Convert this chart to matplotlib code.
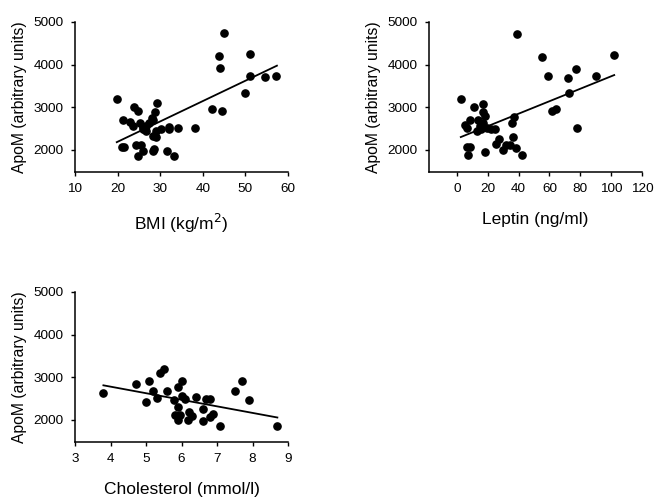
import matplotlib
matplotlib.use("Agg")
import matplotlib.pyplot as plt

plt.rcParams["font.family"] = ["Liberation Sans", "DejaVu Sans"]

# BMI panel
bmi = [19.9, 45.0, 43.9, 44.0, 51.0, 51.0, 54.6, 57.2, 49.9, 42.2, 44.4,
       38.2, 34.1, 32.1, 32.1, 30.3, 29.2, 28.8, 28.0, 28.4, 23.9, 24.7,
       21.2, 22.9, 23.7, 25.3, 26.0, 26.3, 26.6, 26.0, 29.0, 28.4, 29.0,
       21.0, 21.5, 24.4, 25.6, 25.9, 24.7, 28.2, 28.6, 31.5, 33.3, 27.4,
       26.6]
bmi_apom = [3195, 4750, 4200, 3910, 4240, 3740, 3700, 3730, 3340, 2960, 2905,
            2510, 2520, 2530, 2490, 2480, 3090, 2880, 2740, 2700, 3010, 2910,
            2690, 2660, 2550, 2620, 2530, 2480, 2450, 2500, 2450, 2330, 2300,
            2060, 2060, 2110, 2110, 1970, 1850, 1980, 2020, 1970, 1850, 2620,
            2560]
bmi_fit_x = [19.8, 57.4]
bmi_fit_y = [2180, 3975]

# Leptin panel
leptin = [2.6, 38.7, 54.9, 102.0, 59.2, 71.8, 77.0, 89.9, 72.8, 61.8, 64.6,
          77.8, 37.0, 35.5, 36.5, 38.3, 42.2, 32.2, 30.0, 34.2, 25.7, 27.2,
          18.6, 7.3, 8.4, 6.8, 11.0, 17.1, 16.7, 18.0, 5.2, 6.6, 8.4, 13.8,
          15.0, 16.0, 12.8, 19.3, 22.4, 24.6, 15.6, 16.7]
leptin_apom = [3195, 4730, 4185, 4225, 3730, 3690, 3900, 3725, 3330, 2900, 2950,
               2510, 2765, 2625, 2300, 2040, 1870, 2120, 2000, 2120, 2140, 2250,
               1960, 1870, 2060, 2060, 3010, 3075, 2880, 2800, 2585, 2520, 2690,
               2700, 2560, 2560, 2445, 2510, 2480, 2480, 2480, 2630]
leptin_fit_x = [2.6, 102.0]
leptin_fit_y = [2300, 3755]

# Cholesterol panel
chol = [3.80, 4.71, 5.09, 5.00, 5.21, 5.30, 5.39, 5.51, 5.60, 5.80, 5.89,
        6.00, 5.89, 6.00, 6.10, 6.40, 5.82, 5.96, 5.89, 6.21, 6.19, 6.29,
        6.60, 6.60, 6.68, 6.80, 6.80, 6.90, 7.09, 7.50, 7.70, 7.90, 8.70]
chol_apom = [2620, 2830, 2900, 2425, 2685, 2510, 3110, 3190, 2685, 2470, 2765,
             2905, 2305, 2565, 2490, 2545, 2120, 2120, 2000, 2195, 2000, 2080,
             2250, 1975, 2480, 2480, 2070, 2135, 1860, 2670, 2900, 2470, 1860]
chol_fit_x = [3.8, 8.7]
chol_fit_y = [2810, 2055]

y_ticks = [2000, 3000, 4000, 5000]

fig = plt.figure(figsize=(6.55, 5.0), dpi=100)
ax1 = fig.add_axes([75 / 655, 1 - 172 / 500, 213 / 655, 150 / 500])
ax2 = fig.add_axes([429 / 655, 1 - 172 / 500, 213 / 655, 150 / 500])
ax3 = fig.add_axes([75 / 655, 1 - 442 / 500, 213 / 655, 150 / 500])

panels = [
    (ax1, bmi, bmi_apom, bmi_fit_x, bmi_fit_y, (10, 60),
     [10, 20, 30, 40, 50, 60], "BMI (kg/m$^2$)"),
    (ax2, leptin, leptin_apom, leptin_fit_x, leptin_fit_y, (-18, 120),
     [0, 20, 40, 60, 80, 100, 120], "Leptin (ng/ml)"),
    (ax3, chol, chol_apom, chol_fit_x, chol_fit_y, (3, 9),
     [3, 4, 5, 6, 7, 8, 9], "Cholesterol (mmol/l)"),
]

for ax, x, y, fx, fy, xlim, xt, xlabel in panels:
    ax.plot(x, y, "o", color="black", markersize=5.2, clip_on=False)
    ax.plot(fx, fy, "-", color="black", lw=1.3)
    ax.set_xlim(*xlim)
    ax.set_ylim(1480, 5000)
    ax.set_xticks(xt)
    ax.set_yticks(y_ticks)
    ax.spines["top"].set_visible(False)
    ax.spines["right"].set_visible(False)
    for s in ["left", "bottom"]:
        ax.spines[s].set_linewidth(1.1)
    ax.tick_params(direction="out", length=3, width=1, labelsize=9.7,
                   pad=5, colors="black")
    ax.set_xlabel(xlabel, fontsize=12.5, labelpad=12)
    ax.set_ylabel("ApoM (arbitrary units)", fontsize=11.3, labelpad=5)

plt.savefig("out.png", dpi=100)
